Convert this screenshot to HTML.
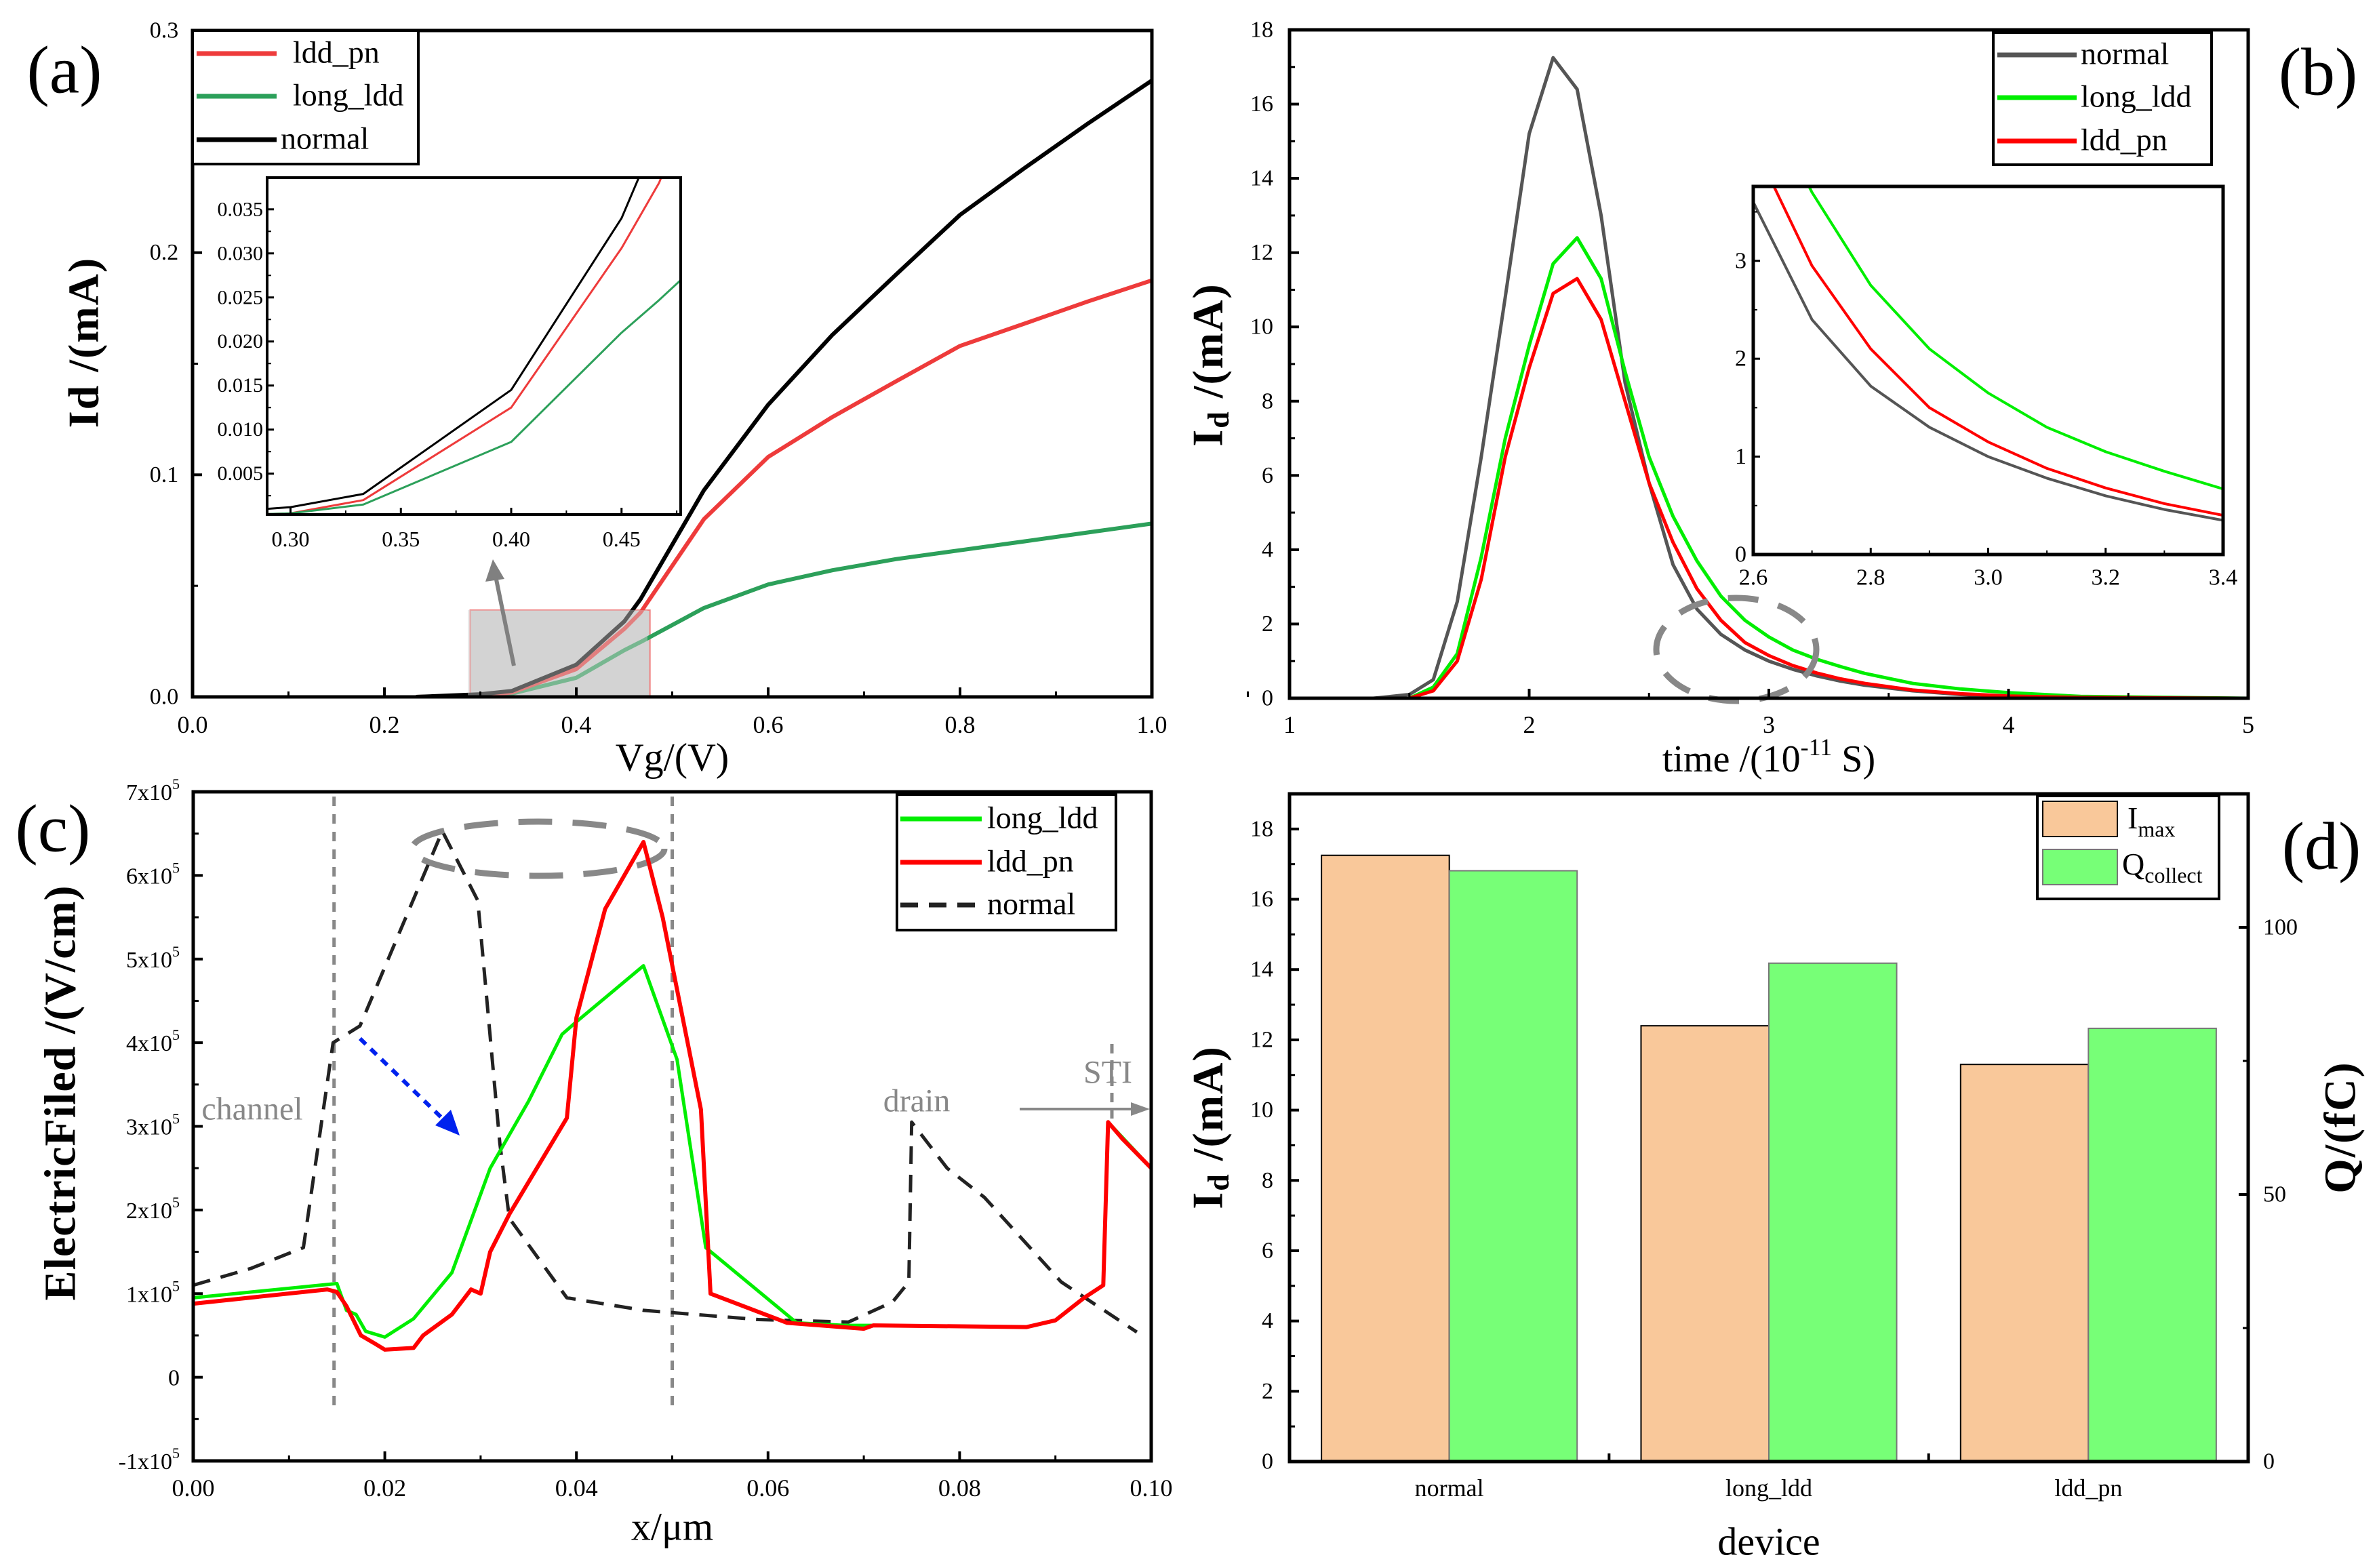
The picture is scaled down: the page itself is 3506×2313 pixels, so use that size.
<!DOCTYPE html>
<html><head><meta charset="utf-8">
<style>
html,body{margin:0;padding:0;background:#fff;}
svg{display:block;font-family:"Liberation Serif",serif;}
</style></head>
<body>
<svg id="fig" width="3506" height="2313" viewBox="0 0 3506 2313" xmlns="http://www.w3.org/2000/svg">
<rect width="3506" height="2313" fill="#fff"/>
<g id="root"></g>
</svg>
<script>
// ---------- Panel (a) data ----------
const aVg = [0.233,0.3,0.333,0.4,0.45,0.467,0.533,0.6,0.667,0.733,0.8,0.867,0.933,1.0];
const aNormal = [0,0.0012,0.0027,0.0145,0.034,0.044,0.093,0.1315,0.163,0.19,0.217,0.238,0.258,0.2775];
const aLddPn = [0,0.0005,0.002,0.0125,0.0306,0.038,0.08,0.108,0.126,0.142,0.158,0.168,0.178,0.1875];
const aLongLdd = [0,0.0005,0.0015,0.0086,0.021,0.0247,0.040,0.0506,0.057,0.062,0.066,0.07,0.074,0.078];
const aXTicks = ["0.0","0.2","0.4","0.6","0.8","1.0"];
const aYTicks = ["0.0","0.1","0.2","0.3"];
const aInXTicks = ["0.30","0.35","0.40","0.45"];
const aInYTicks = ["0.005","0.010","0.015","0.020","0.025","0.030","0.035"];
// ---------- Panel (b) data ----------
const bT = [1,1.35,1.5,1.6,1.7,1.8,1.9,2.0,2.1,2.2,2.3,2.4,2.5,2.6,2.7,2.8,2.9,3.0,3.1,3.2,3.3,3.4,3.6,3.8,4.0,4.3,5.0];
const bNormal = [0,0,0.1,0.5,2.6,6.5,10.8,15.2,17.25,16.4,13,8.5,5.8,3.6,2.4,1.72,1.3,1.0,0.78,0.6,0.46,0.35,0.2,0.1,0.05,0.01,0];
const bLongLdd = [0,0,0,0.3,1.2,3.8,7,9.5,11.7,12.4,11.3,8.8,6.5,4.9,3.7,2.75,2.1,1.65,1.3,1.05,0.85,0.67,0.4,0.25,0.15,0.05,0];
const bLddPn = [0,0,0,0.2,1.0,3.2,6.5,8.9,10.9,11.3,10.2,8,5.8,4.2,2.95,2.1,1.5,1.15,0.88,0.68,0.52,0.4,0.22,0.12,0.06,0.02,0];
const bXTicks = ["1","2","3","4","5"];
const bYTicks = ["0","2","4","6","8","10","12","14","16","18"];
const bInXTicks = ["2.6","2.8","3.0","3.2","3.4"];
const bInYTicks = ["0","1","2","3"];
// ---------- Panel (c) data (units of 1e5 V/cm) ----------
const cXLdd = [0,0.014,0.015,0.016,0.0175,0.019,0.02,0.023,0.024,0.027,0.029,0.03,0.031,0.033,0.039,0.04,0.043,0.047,0.049,0.053,0.054,0.062,0.07,0.071,0.087,0.09,0.093,0.095,0.0955,0.097,0.1];
const cLddPn = [0.88,1.05,1.02,0.85,0.5,0.4,0.33,0.35,0.5,0.75,1.05,1.0,1.5,1.95,3.1,4.3,5.6,6.4,5.5,3.2,1.0,0.65,0.58,0.62,0.6,0.68,0.95,1.1,3.05,2.85,2.5];
const cXLong = [0,0.015,0.016,0.017,0.018,0.02,0.023,0.027,0.031,0.035,0.0385,0.04,0.047,0.0505,0.0535,0.063,0.068,0.071,0.087,0.09,0.093,0.095,0.0955,0.1];
const cLongLdd = [0.95,1.12,0.8,0.75,0.55,0.48,0.7,1.25,2.5,3.3,4.1,4.25,4.92,3.8,1.55,0.65,0.62,0.62,0.6,0.68,0.95,1.1,3.05,2.5];
const cXNormal = [0,0.006,0.0115,0.0146,0.0174,0.026,0.0297,0.0305,0.032,0.033,0.039,0.047,0.059,0.0684,0.073,0.0747,0.075,0.0787,0.0826,0.0906,0.0985];
const cNormal = [1.1,1.3,1.55,4.0,4.2,6.53,5.7,4.7,2.8,1.9,0.95,0.8,0.69,0.66,0.9,1.14,3.05,2.5,2.15,1.14,0.54];
const cXTicks = ["0.00","0.02","0.04","0.06","0.08","0.10"];
const cYTicks = ["-1","0","1","2","3","4","5","6","7"];
// ---------- Panel (d) data ----------
const dDevices = ["normal","long_ldd","ldd_pn"];
const dImax = [17.25,12.4,11.3];
const dQ = [110.6,93.3,81.1];
const dYTicks = ["0","2","4","6","8","10","12","14","16","18"];
const dY2Ticks = ["0","50","100"];

const NS = "http://www.w3.org/2000/svg";
const root = document.getElementById('root');
function mk(tag, attrs, parent){
  const e = document.createElementNS(NS, tag);
  for (const k in attrs) e.setAttribute(k, attrs[k]);
  (parent||root).appendChild(e);
  return e;
}
function txt(s, x, y, size, parent, extra){
  const e = mk('text', Object.assign({x:x, y:y, 'font-size':size, 'text-anchor':'middle', 'dominant-baseline':'central', fill:'#000'}, extra||{}), parent);
  e.textContent = s;
  return e;
}
function scale(d0,d1,r0,r1){ return v => r0 + (v-d0)/(d1-d0)*(r1-r0); }
function poly(xs, ys, sx, sy, stroke, w, parent, dash){
  const pts = xs.map((x,i)=> sx(x).toFixed(1)+','+sy(ys[i]).toFixed(1)).join(' ');
  const a = {points:pts, fill:'none', stroke:stroke, 'stroke-width':w, 'stroke-linejoin':'round'};
  if (dash) a['stroke-dasharray'] = dash;
  return mk('polyline', a, parent);
}
function frame(L,T,R,B,w,parent){
  return mk('rect',{x:L,y:T,width:R-L,height:B-T,fill:'none',stroke:'#000','stroke-width':w},parent);
}
function clip(id,L,T,R,B){
  const d = mk('clipPath',{id:id});
  mk('rect',{x:L,y:T,width:R-L,height:B-T},d);
}

// ================= PANEL A =================
(function(){
  const L=284,R=1699,T=45,B=1028;
  const g = mk('g',{});
  
  
  const sx = scale(0,1,L,R), sy = scale(0,0.3,B,T);
  clip('clipA',L,T,R,B);
  const hr = mk('rect',{x:sx(0.2894),y:900,width:sx(0.4768)-sx(0.2894),height:B-900,fill:'#d3d3d3',stroke:'#f08080','stroke-width':2},g);
  
  
  const lg = mk('g',{'clip-path':'url(#clipA)'},g);
  poly(aVg,aLongLdd,sx,sy,'#2ca05a',6,lg);
  poly(aVg,aLddPn,sx,sy,'#ee3b3b',6,lg);
  poly(aVg,aNormal,sx,sy,'#000',6,lg);
  mk('rect',{x:690,y:900,width:265,height:127,fill:'#d3d3d3','fill-opacity':0.45},g);
  mk('line',{x1:758,y1:982,x2:731,y2:850,stroke:'#808080','stroke-width':6},g);
  mk('polygon',{points:'727,825 716,858 744,854',fill:'#808080'},g);
  frame(L,T,R,B,5,g);
  aXTicks.forEach((t,i)=>{ const v=i*0.2; const x=sx(v);
    mk('line',{x1:x,y1:B,x2:x,y2:B-14,stroke:'#000','stroke-width':4},g);
    mk('line',{x1:sx(v+0.1),y1:B,x2:sx(v+0.1),y2:B-8,stroke:'#000','stroke-width':3},g);
    txt(t,x,1069,36,g);});
  aYTicks.forEach((t,i)=>{ const v=i*0.1; const y=sy(v);
    mk('line',{x1:L,y1:y,x2:L+14,y2:y,stroke:'#000','stroke-width':4},g);
    if(i<3) mk('line',{x1:L,y1:sy(v+0.05),x2:L+8,y2:sy(v+0.05),stroke:'#000','stroke-width':3},g);
    txt(t,L-42,y,34,g);});
  txt('Vg/(V)',sx(0.5),1117,58,g);
  const yt = txt('Id /(mA)',123,505,64,g,{'font-weight':'bold','letter-spacing':2,transform:'rotate(-90 123 505)'});
  
  const lgd = mk('g',{},g);
  
  
  mk('rect',{x:L,y:T,width:333,height:197,fill:'#fff',stroke:'#000','stroke-width':4},lgd);
  [['ldd_pn','#ee3b3b',79],['long_ldd','#2ca05a',142],['normal','#000',206]].forEach((e,i)=>{
    mk('line',{x1:L+6,y1:e[2],x2:L+124,y2:e[2],stroke:e[1],'stroke-width':7},lgd);
    txt(e[0],i==2?L+130:L+148,e[2]-2,46,lgd,{'text-anchor':'start'});
  });
  const IL=394,IR=1004,IT=262,IB=759;
  const ig = mk('g',{},g);
  
  
  mk('rect',{x:IL,y:IT,width:IR-IL,height:IB-IT,fill:'#fff'},ig);
  const isx = scale(0.2894,0.4768,IL,IR), isy = scale(0.00036,0.0386,IB,IT);
  clip('clipAi',IL,IT,IR,IB);
  const icl = mk('g',{'clip-path':'url(#clipAi)'},ig);
  poly(aVg,aNormal,isx,isy,'#000',3,icl);
  poly(aVg,aLddPn,isx,isy,'#ee3b3b',3,icl);
  poly(aVg,aLongLdd,isx,isy,'#2ca05a',3,icl);
  frame(IL,IT,IR,IB,4,ig);
  aInXTicks.forEach((t,i)=>{const v=0.30+i*0.05;const x=isx(v);
    mk('line',{x1:x,y1:IB,x2:x,y2:IB-10,stroke:'#000','stroke-width':3},ig);
    mk('line',{x1:isx(v+0.025),y1:IB,x2:isx(v+0.025),y2:IB-6,stroke:'#000','stroke-width':2},ig);
    txt(t,x,795,32,ig);});
  aInYTicks.forEach((t,i)=>{const v=0.005*(i+1);const y=isy(v);
    mk('line',{x1:IL,y1:y,x2:IL+10,y2:y,stroke:'#000','stroke-width':3},ig);
    mk('line',{x1:IL,y1:isy(v-0.0025),x2:IL+6,y2:isy(v-0.0025),stroke:'#000','stroke-width':2},ig);
    txt(t,IL-6,y,30,ig,{'text-anchor':'end'});});
  txt('(a)',95,103,100,g);
})();

// ================= PANEL B =================
(function(){
  const L=1902,R=3316,T=44,B=1030;
  const g = mk('g',{});
  
  
  const sx = scale(1,5,L,R), sy = scale(0,18,B,T);
  poly(bT,bNormal,sx,sy,'#555',5,g);
  poly(bT,bLongLdd,sx,sy,'#00ee00',5,g);
  poly(bT,bLddPn,sx,sy,'#ff0000',5,g);
  mk('ellipse',{cx:2561,cy:958,rx:118,ry:76,fill:'none',stroke:'#888','stroke-width':9,'stroke-dasharray':'45 30'},g);
  frame(L,T,R,B,5,g);
  bXTicks.forEach((t,i)=>{const v=1+i;const x=sx(v);
    mk('line',{x1:x,y1:B,x2:x,y2:B-14,stroke:'#000','stroke-width':4},g);
    if(i<4) mk('line',{x1:sx(v+0.5),y1:B,x2:sx(v+0.5),y2:B-8,stroke:'#000','stroke-width':3},g);
    txt(t,x,1069,36,g);});
  bYTicks.forEach((t,i)=>{const v=i*2;const y=sy(v);
    mk('line',{x1:L,y1:y,x2:L+14,y2:y,stroke:'#000','stroke-width':4},g);
    if(i<9) mk('line',{x1:L,y1:sy(v+1),x2:L+8,y2:sy(v+1),stroke:'#000','stroke-width':3},g);
    txt(t,L-24,y,34,g,{'text-anchor':'end'});});
  const xt = mk('text',{x:sx(3),y:1120,'font-size':56,'text-anchor':'middle','dominant-baseline':'central'},g);
  
  
  xt.innerHTML = 'time /(10<tspan dy="-18" font-size="36">-11</tspan><tspan dy="18"> S)</tspan>';
  const yt = mk('text',{x:1781,y:538,'font-size':64,'font-weight':'bold','letter-spacing':2,'text-anchor':'middle','dominant-baseline':'central',transform:'rotate(-90 1781 538)'},g);
  
  
  yt.innerHTML = 'I<tspan dy="16" font-size="44">d</tspan><tspan dy="-16"> /(mA)</tspan>';
  const lgd = mk('g',{},g);
  
  
  mk('rect',{x:2940,y:48,width:322,height:195,fill:'#fff',stroke:'#000','stroke-width':4},lgd);
  [['normal','#555',81],['long_ldd','#00ee00',144],['ldd_pn','#ff0000',208]].forEach(e=>{
    mk('line',{x1:2946,y1:e[2],x2:3063,y2:e[2],stroke:e[1],'stroke-width':7},lgd);
    txt(e[0],3069,e[2]-2,46,lgd,{'text-anchor':'start'});
  });
  const IL=2586,IR=3279,IT=275,IB=818;
  const ig = mk('g',{},g);
  
  
  mk('rect',{x:IL,y:IT,width:IR-IL,height:IB-IT,fill:'#fff'},ig);
  const isx = scale(2.6,3.4,IL,IR), isy = scale(0,3.76,IB,IT);
  clip('clipBi',IL,IT,IR,IB);
  const icl = mk('g',{'clip-path':'url(#clipBi)'},ig);
  poly(bT,bNormal,isx,isy,'#555',4,icl);
  poly(bT,bLongLdd,isx,isy,'#00ee00',4,icl);
  poly(bT,bLddPn,isx,isy,'#ff0000',4,icl);
  frame(IL,IT,IR,IB,5,ig);
  bInXTicks.forEach((t,i)=>{const v=2.6+i*0.2;const x=isx(v);
    mk('line',{x1:x,y1:IB,x2:x,y2:IB-10,stroke:'#000','stroke-width':3},ig);
    if(i<4) mk('line',{x1:isx(v+0.1),y1:IB,x2:isx(v+0.1),y2:IB-6,stroke:'#000','stroke-width':2},ig);
    txt(t,x,852,34,ig);});
  bInYTicks.forEach((t,i)=>{const y=isy(i);
    mk('line',{x1:IL,y1:y,x2:IL+10,y2:y,stroke:'#000','stroke-width':3},ig);
    mk('line',{x1:IL,y1:isy(i+0.5),x2:IL+6,y2:isy(i+0.5),stroke:'#000','stroke-width':2},ig);
    txt(t,IL-10,y,34,ig,{'text-anchor':'end'});});
  txt('(b)',3419,106,100,g);
})();

// ================= PANEL C =================
(function(){
  const L=285,R=1698,T=1168,B=2155;
  const g = mk('g',{});
  
  
  const sx = scale(0,0.1,L,R), sy = scale(-1,7,B,T);
  mk('line',{x1:sx(0.0147),y1:1175,x2:sx(0.0147),y2:2080,stroke:'#888','stroke-width':5,'stroke-dasharray':'14 12'},g);
  mk('line',{x1:sx(0.05),y1:1175,x2:sx(0.05),y2:2080,stroke:'#888','stroke-width':5,'stroke-dasharray':'14 12'},g);
  mk('line',{x1:1640,y1:1540,x2:1640,y2:1660,stroke:'#888','stroke-width':5,'stroke-dasharray':'14 10'},g);
  mk('ellipse',{cx:794,cy:1252,rx:186,ry:40,fill:'none',stroke:'#888','stroke-width':9,'stroke-dasharray':'50 30'},g);
  poly(cXNormal,cNormal,sx,sy,'#222',5,g,'26 16');
  poly(cXLong,cLongLdd,sx,sy,'#00ee00',5,g);
  poly(cXLdd,cLddPn,sx,sy,'#ff0000',6,g);
  mk('line',{x1:531,y1:1532,x2:665,y2:1662,stroke:'#0022ee','stroke-width':6,'stroke-dasharray':'12 10'},g);
  mk('polygon',{points:'678,1675 642,1660 665,1637',fill:'#0022ee'},g);
  mk('line',{x1:1504,y1:1636,x2:1670,y2:1636,stroke:'#888','stroke-width':4},g);
  mk('polygon',{points:'1696,1636 1668,1626 1668,1646',fill:'#888'},g);
  txt('channel',372,1636,48,g,{fill:'#888'});
  txt('drain',1352,1624,48,g,{fill:'#888'});
  txt('STI',1634,1582,48,g,{fill:'#888'});
  frame(L,T,R,B,5,g);
  cXTicks.forEach((t,i)=>{const v=i*0.02;const x=sx(v);
    mk('line',{x1:x,y1:B,x2:x,y2:B-14,stroke:'#000','stroke-width':4},g);
    if(i<5) mk('line',{x1:sx(v+0.01),y1:B,x2:sx(v+0.01),y2:B-8,stroke:'#000','stroke-width':3},g);
    txt(t,x,2195,36,g);});
  cYTicks.forEach((t,i)=>{const v=i-1;const y=sy(v);
    mk('line',{x1:L,y1:y,x2:L+14,y2:y,stroke:'#000','stroke-width':4},g);
    if(i<8) mk('line',{x1:L,y1:sy(v+0.5),x2:L+8,y2:sy(v+0.5),stroke:'#000','stroke-width':3},g);
    const e = mk('text',{x:L-20,y:y+12,'font-size':34,'text-anchor':'end'},g);
    if(t==='0') e.textContent='0';
    else e.innerHTML = t+'x10<tspan dy="-16" font-size="22">5</tspan>';
  });
  txt('x/μm',sx(0.05),2252,58,g);
  const yt = txt('ElectricFiled /(V/cm)',89,1612,66,g,{'font-weight':'bold','letter-spacing':1,transform:'rotate(-90 89 1612)'});
  
  const lgd = mk('g',{},g);
  
  
  mk('rect',{x:1323,y:1172,width:323,height:200,fill:'#fff',stroke:'#000','stroke-width':4},lgd);
  [['long_ldd','#00ee00',1208,null],['ldd_pn','#ff0000',1272,null],['normal','#222',1335,'26 16']].forEach(e=>{
    const a={x1:1328,y1:e[2],x2:1448,y2:e[2],stroke:e[1],'stroke-width':7};
    if(e[3]) a['stroke-dasharray']=e[3];
    mk('line',a,lgd);
    txt(e[0],1456,e[2]-2,46,lgd,{'text-anchor':'start'});
  });
  txt('(c)',78,1222,100,g);
})();

// ================= PANEL D =================
(function(){
  const L=1902,R=3316,T=1171,B=2156;
  const g = mk('g',{});
  
  
  const sx = scale(0.5,3.5,L,R), sy = scale(0,19,B,T), sy2 = scale(0,125,B,T);
  const bw = 0.4;
  dDevices.forEach((d,i)=>{
    const c = i+1;
    const r1 = mk('rect',{x:sx(c-bw),y:sy(dImax[i]),width:sx(c)-sx(c-bw),height:B-sy(dImax[i]),fill:'#f9c89a',stroke:'#000','stroke-width':2},g);
    
    
    const r2 = mk('rect',{x:sx(c),y:sy2(dQ[i]),width:sx(c+bw)-sx(c),height:B-sy2(dQ[i]),fill:'#77ff77',stroke:'#777','stroke-width':2},g);
    
    
    txt(d,sx(c),2195,36,g);
    if(i<2) mk('line',{x1:sx(c+0.5),y1:B,x2:sx(c+0.5),y2:B-12,stroke:'#000','stroke-width':4},g);
  });
  frame(L,T,R,B,5,g);
  dYTicks.forEach((t,i)=>{const v=i*2;const y=sy(v);
    mk('line',{x1:L,y1:y,x2:L+14,y2:y,stroke:'#000','stroke-width':4},g);
    mk('line',{x1:L,y1:sy(v+1),x2:L+8,y2:sy(v+1),stroke:'#000','stroke-width':3},g);
    txt(t,L-24,y,34,g,{'text-anchor':'end'});});
  dY2Ticks.forEach((t,i)=>{const v=i*50;const y=sy2(v);
    mk('line',{x1:R,y1:y,x2:R-14,y2:y,stroke:'#000','stroke-width':4},g);
    mk('line',{x1:R,y1:sy2(v+25),x2:R-8,y2:sy2(v+25),stroke:'#000','stroke-width':3},g);
    txt(t,R+22,y,34,g,{'text-anchor':'start'});});
  txt('device',sx(2),2274,58,g);
  const yt = mk('text',{x:1781,y:1663,'font-size':64,'font-weight':'bold','letter-spacing':2,'text-anchor':'middle','dominant-baseline':'central',transform:'rotate(-90 1781 1663)'},g);
  
  
  yt.innerHTML = 'I<tspan dy="16" font-size="44">d</tspan><tspan dy="-16"> /(mA)</tspan>';
  const yt2 = txt('Q/(fC)',3452,1663,66,g,{'font-weight':'bold','letter-spacing':2,transform:'rotate(-90 3452 1663)'});
  
  const lgd = mk('g',{},g);
  
  
  mk('rect',{x:3005,y:1174,width:268,height:152,fill:'#fff',stroke:'#000','stroke-width':4},lgd);
  mk('rect',{x:3013,y:1182,width:110,height:52,fill:'#f9c89a',stroke:'#000','stroke-width':2},lgd);
  mk('rect',{x:3013,y:1253,width:110,height:52,fill:'#77ff77',stroke:'#777','stroke-width':2},lgd);
  const l1 = mk('text',{x:3138,y:1222,'font-size':46},lgd);
  l1.innerHTML='I<tspan dy="12" font-size="32">max</tspan>';
  const l2 = mk('text',{x:3130,y:1290,'font-size':46},lgd);
  l2.innerHTML='Q<tspan dy="12" font-size="32">collect</tspan>';
  txt('(d)',3424,1248,100,g);
})();
</script>
</body></html>
